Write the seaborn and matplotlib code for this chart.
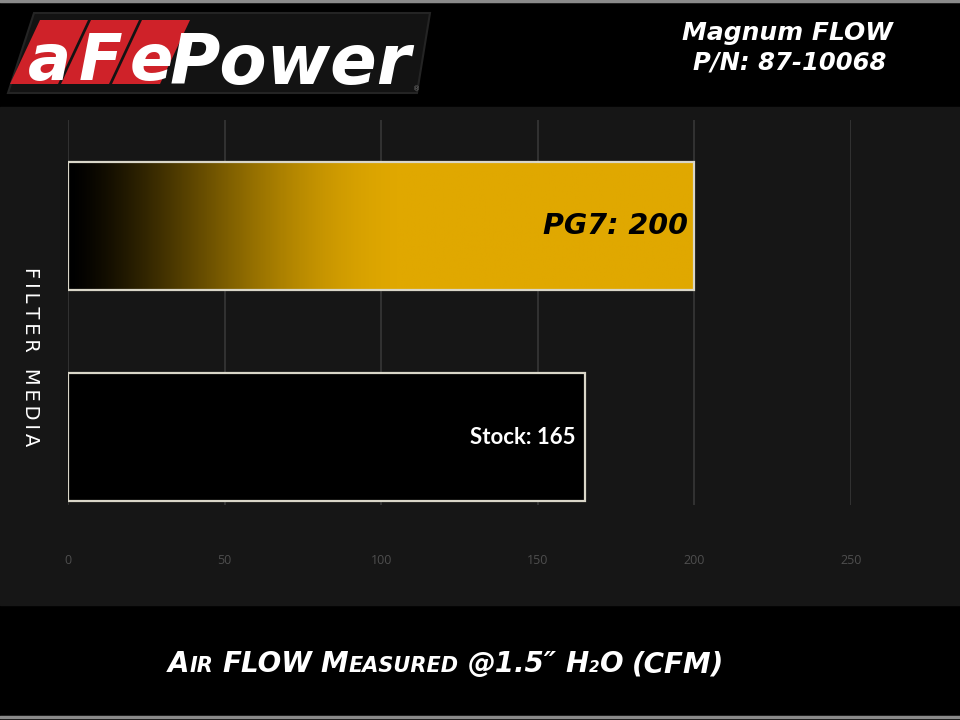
import numpy as np
import pandas as pd
import matplotlib
matplotlib.use("Agg")
import matplotlib.pyplot as plt
import seaborn as sns
from matplotlib.patches import Polygon, Rectangle
from matplotlib.colors import LinearSegmentedColormap

# ---------------- data ----------------
categories = ["PG7", "Stock"]
airflow_cfm = [200, 165]
bar_labels = ["PG7: 200", "Stock: 165"]
x_ticks = [0, 50, 100, 150, 200, 250]
x_tick_labels = ["0", "50", "100", "150", "200", "250"]

GOLD = "#E0A800"

sns.set_theme(style="dark")
plt.rcParams["font.family"] = ["DejaVu Sans"]

fig = plt.figure(figsize=(9.6, 7.2), dpi=100, facecolor="black")

# background / decoration axes in pixel coordinates
bg = fig.add_axes([0, 0, 1, 1], zorder=0)
bg.set_xlim(0, 960)
bg.set_ylim(720, 0)
bg.axis("off")
bg.add_patch(Rectangle((0, 0), 960, 720, color="black"))
bg.add_patch(Rectangle((0, 107), 960, 498, color="#161616"))
bg.plot([0, 960], [1, 1], color="#8a8a8a", lw=2.5)
bg.plot([0, 960], [717, 717], color="#8a8a8a", lw=2.5)

# ---------------- chart ----------------
ax = fig.add_axes([68 / 960, 1 - 505 / 720, (851 - 68) / 960, (505 - 120) / 720], zorder=1)
ax.set_facecolor("none")

df = pd.DataFrame({"Filter Media": categories, "Air Flow": airflow_cfm})
sns.barplot(data=df, x="Air Flow", y="Filter Media", hue="Filter Media",
            palette={"PG7": GOLD, "Stock": "#000000"}, width=0.607,
            edgecolor="#d9d6c8", linewidth=1.6, ax=ax, legend=False,
            zorder=3, saturation=1)

ylim = (1.322, -0.502)

# gradient fill on the PG7 bar (black -> gold, easing into solid gold)
cmap = LinearSegmentedColormap.from_list("gold_grad", ["#000000", GOLD])
for patch in ax.patches:
    x0, y0 = patch.get_x(), patch.get_y()
    w, h = patch.get_width(), patch.get_height()
    if abs(w - airflow_cfm[0]) < 1e-6:
        xs = np.linspace(0, w, 600)
        t = np.clip(xs / 110.0, 0, 1)
        grad = (np.sin(np.pi / 2 * t) ** 1.4)[None, :]
        im = ax.imshow(grad, extent=[x0, x0 + w, y0 + h, y0], aspect="auto",
                       cmap=cmap, vmin=0, vmax=1, zorder=2.9, interpolation="bilinear")
        im.set_clip_path(patch)
        patch.set_facecolor("none")

ax.set_xlim(0, 250)
ax.set_ylim(*ylim)
ax.set_xticks(x_ticks, x_tick_labels)
ax.set_yticks([])
ax.set_xlabel("")
ax.set_ylabel("")
ax.grid(axis="x", color="#3a3a3a", lw=1.1)
ax.grid(axis="y", visible=False)
ax.set_axisbelow(True)
for s in ax.spines.values():
    s.set_visible(False)
ax.tick_params(axis="x", length=0, pad=35, labelsize=9, labelcolor="#4e4e4e")
for lab in ax.get_xticklabels():
    lab.set_family(["Open Sans", "DejaVu Sans"])

# value labels
ax.annotate(bar_labels[0], xy=(airflow_cfm[0], 0), xytext=(-4.5, 0),
            textcoords="offset points", ha="right", va="center",
            fontsize=20.5, fontweight="bold", style="italic", color="black", zorder=5)
ax.annotate(bar_labels[1], xy=(airflow_cfm[1], 1), xytext=(-6.5, 0),
            textcoords="offset points", ha="right", va="center",
            fontsize=16, fontweight="bold", color="white", zorder=5,
            family=["Lato", "DejaVu Sans"])

# y axis title
bg.text(30, 357, "F\u2009I\u2009L\u2009T\u2009E\u2009R\u2002 M\u2009E\u2009D\u2009I\u2009A",
        rotation=270, ha="center", va="center", color="white", fontsize=14,
        family=["DejaVu Sans"])

# ---------------- logo ----------------
bg.add_patch(Polygon([(34, 13), (430, 13), (417, 93), (8, 93)], closed=True,
                     facecolor="#131313", edgecolor="#242424", lw=1.5))
boxes_top = [(40, 88), (91, 139), (142, 190)]
slant = 30
letters = ["a", "F", "e"]
for (l, r), ch in zip(boxes_top, letters):
    bg.add_patch(Polygon([(l, 20), (r, 20), (r - slant, 84), (l - slant, 84)],
                         closed=True, facecolor="#cf2229", edgecolor="none"))
    cx = (l + r) / 2 - slant / 2
    bg.text(cx, 80, ch, ha="center", va="baseline", fontsize=46, fontweight="bold",
            style="italic", color="white")
bg.text(170, 84, "Power", ha="left", va="baseline", fontsize=49.5, fontweight="bold",
        style="italic", color="white")
bg.text(417, 89, "\u00ae", ha="center", va="center", fontsize=5, color="#777777")

# ---------------- title top right ----------------
bg.text(787, 33, "Magnum FLOW", ha="center", va="center", fontsize=18,
        fontweight="bold", style="italic", color="white")
bg.text(790, 62, "P/N: 87-10068", ha="center", va="center", fontsize=17.5,
        fontweight="bold", style="italic", color="white")

# ---------------- bottom axis label (small caps) ----------------
renderer = fig.canvas.get_renderer()
BIG, SMALL = 20, 15
pieces = [("A", BIG, 0), ("IR", SMALL, 9), ("FLOW", BIG, 9), ("M", BIG, 0),
          ("EASURED", SMALL, 9), ("@1.5\u2033", BIG, 9), ("H", BIG, 0),
          ("2", 11, 0), ("O", BIG, 9), ("(CFM)", BIG, 0)]
arts = []
for txt, size, gap in pieces:
    t = bg.text(0, 672, txt, ha="left", va="baseline", fontsize=size,
                fontweight="bold", style="italic", color="white")
    arts.append((t, gap))
widths = [t.get_window_extent(renderer).width for t, _ in arts]
total = sum(widths) + sum(g for _, g in arts[:-1])
x = 446 - total / 2
for (t, gap), wd in zip(arts, widths):
    t.set_x(x)
    x += wd + gap

fig.savefig("out.png", dpi=100, facecolor="black")
